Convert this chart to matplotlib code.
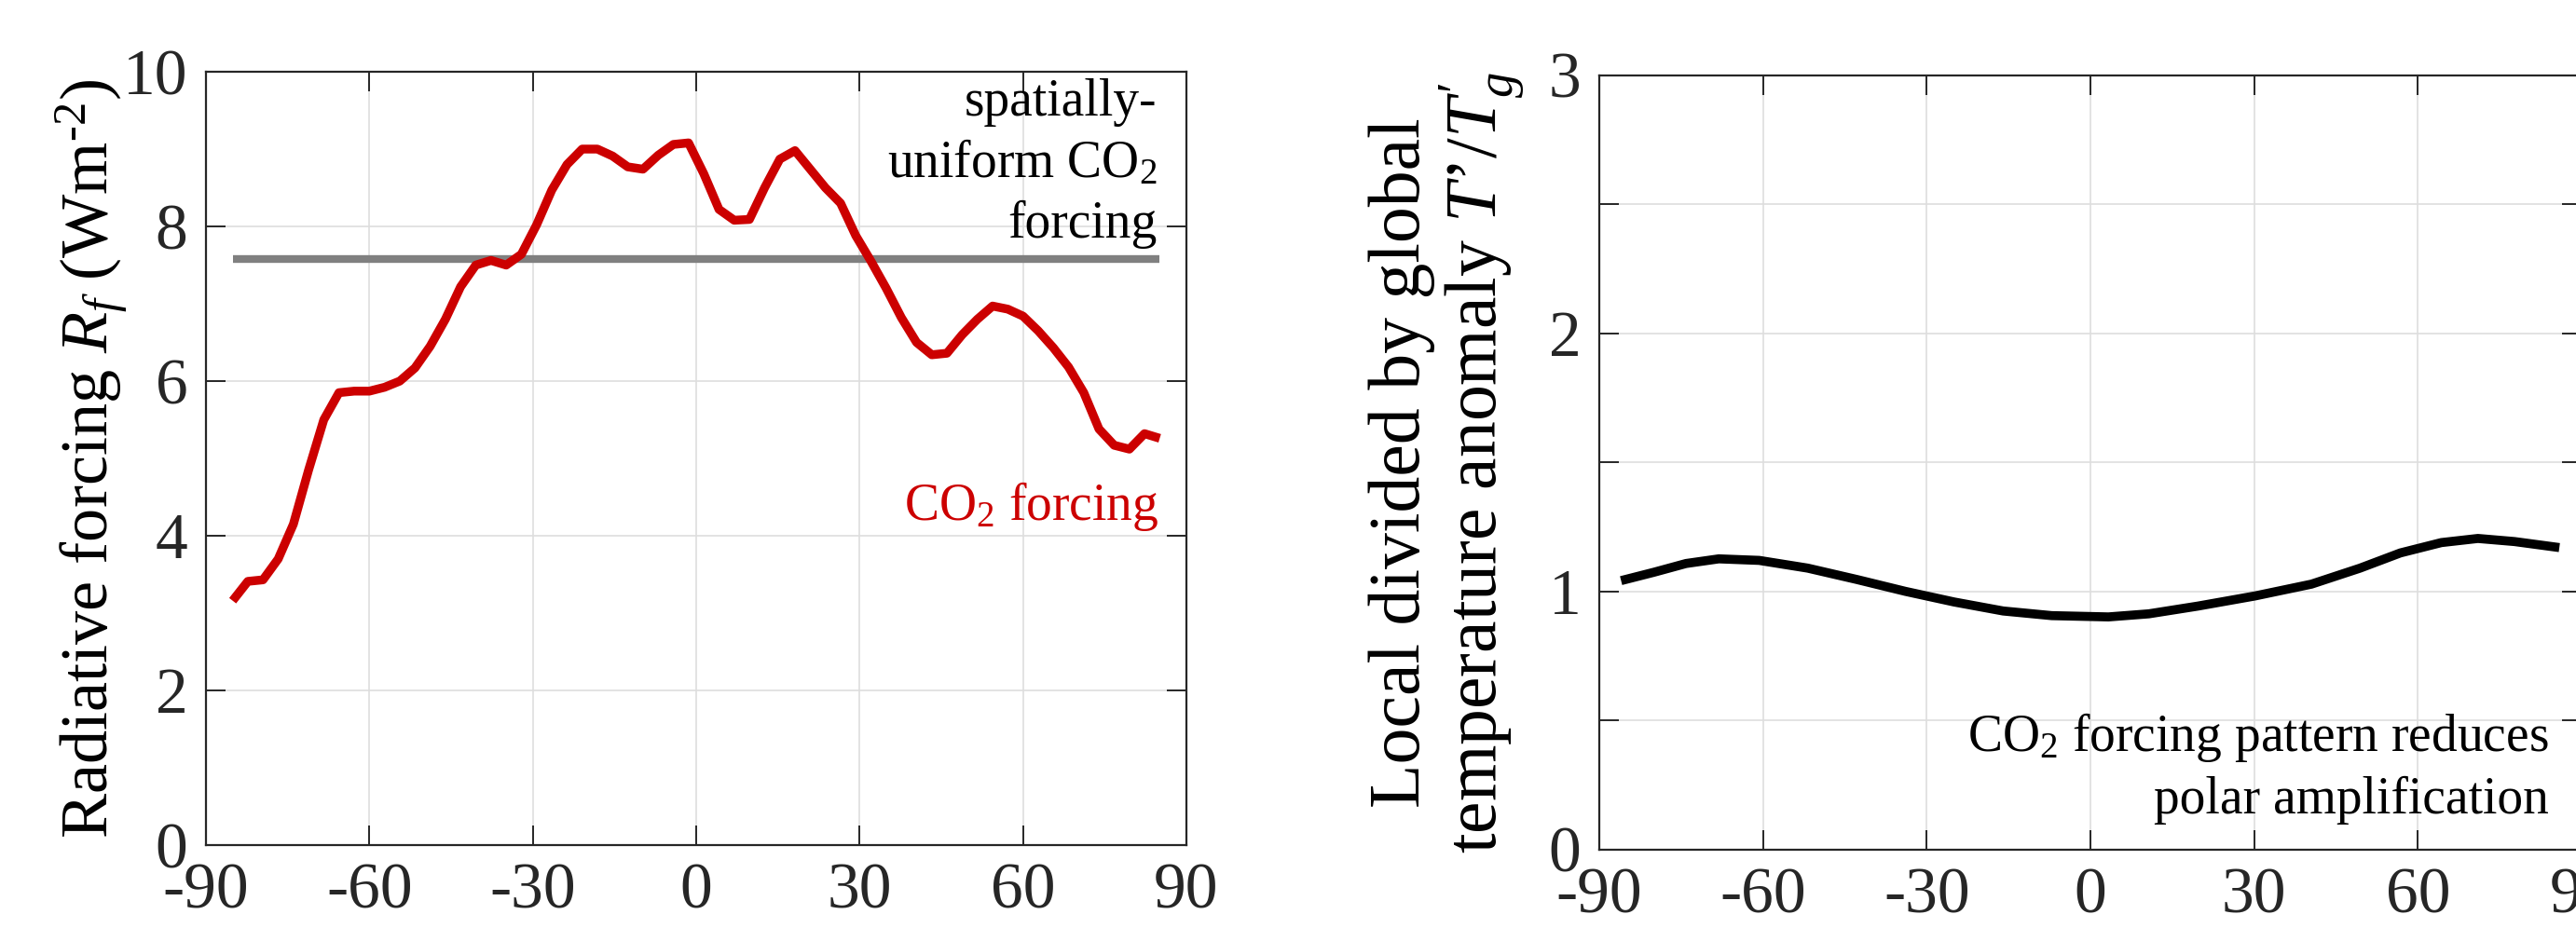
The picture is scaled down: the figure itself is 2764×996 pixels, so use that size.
import matplotlib
matplotlib.use("Agg")
import matplotlib.pyplot as plt

plt.rcParams['font.family'] = ['Liberation Serif', 'DejaVu Serif']
plt.rcParams['mathtext.fontset'] = 'custom'
plt.rcParams['mathtext.rm'] = 'Liberation Serif'
plt.rcParams['mathtext.it'] = 'Liberation Serif:italic'

# latitude grid of the forcing curve (kinks)
lat_f = [-85.10, -82.31, -79.53, -76.74, -73.95, -71.16, -68.37, -65.58, -62.79, -60.00,
         -57.21, -54.42, -51.63, -48.84, -46.04, -43.25, -40.46, -37.67, -34.88, -32.09,
         -29.30, -26.51, -23.72, -20.93, -18.14, -15.35, -12.56, -9.77, -6.98, -4.19,
         -1.40, 1.40, 4.19, 6.98, 9.77, 12.56, 15.35, 18.14, 20.93, 23.72,
         26.51, 29.30, 32.09, 34.88, 37.67, 40.46, 43.25, 46.04, 48.84, 51.63,
         54.42, 57.21, 60.00, 62.79, 65.58, 68.37, 71.16, 73.95, 76.74, 79.53,
         82.31, 85.10]
co2_forcing = [3.16, 3.41, 3.43, 3.70, 4.15, 4.85, 5.50, 5.85, 5.87, 5.87,
               5.92, 6.00, 6.17, 6.45, 6.80, 7.22, 7.50, 7.56, 7.50, 7.64,
               8.02, 8.47, 8.80, 9.00, 9.00, 8.91, 8.77, 8.74, 8.92, 9.06,
               9.08, 8.68, 8.22, 8.08, 8.09, 8.50, 8.87, 8.98, 8.74, 8.50,
               8.30, 7.88, 7.55, 7.20, 6.82, 6.50, 6.34, 6.36, 6.60, 6.80,
               6.97, 6.93, 6.84, 6.65, 6.43, 6.18, 5.85, 5.38, 5.17, 5.12,
               5.32, 5.26]
uniform_forcing = 7.58

# temperature pattern (right panel)
lat_t = [-85.2, -80.0, -74.1, -68.1, -60.7, -51.8, -42.8, -33.9, -25.0, -16.0, -7.1,
         3.3, 10.7, 19.7, 30.1, 40.5, 49.4, 56.8, 64.3, 71.0, 77.7, 85.1]
t_ratio = [1.046, 1.074, 1.108, 1.126, 1.120, 1.090, 1.046, 1.000, 0.959, 0.924, 0.906,
           0.901, 0.913, 0.943, 0.982, 1.028, 1.090, 1.149, 1.189, 1.205, 1.193, 1.172]

xticks = [-90, -60, -30, 0, 30, 60, 90]
yticks_left = [0, 2, 4, 6, 8, 10]
yticks_right = [0, 0.5, 1, 1.5, 2, 2.5, 3]
yticklabels_right = ['0', '', '1', '', '2', '', '3']

W, H = 2764, 996
fig = plt.figure(figsize=(W / 200, H / 200), dpi=200)
ax1 = fig.add_axes([221 / W, 1 - 907 / H, 1052 / W, 830 / H])
ax2 = fig.add_axes([1716 / W, 1 - 911.7 / H, 1054 / W, 831 / H])

dark = '#262626'
for ax in (ax1, ax2):
    ax.set_xlim(-90, 90)
    ax.set_xticks(xticks)
    ax.set_xticklabels([str(v) for v in xticks])
    ax.grid(True, color='#dedede', linewidth=0.6)
    ax.set_axisbelow(True)
    ax.tick_params(direction='in', length=7.5, width=0.7, colors=dark,
                   labelsize=25, top=True, right=True, pad=7)
    for s in ax.spines.values():
        s.set_color(dark)
        s.set_linewidth(0.8)

# left panel
ax1.plot([lat_f[0], lat_f[-1]], [uniform_forcing, uniform_forcing], color='#808080',
         linewidth=3.0, solid_capstyle='butt')
ax1.plot(lat_f, co2_forcing, color='#cc0000', linewidth=3.4, solid_capstyle='butt')
ax1.set_ylim(0, 10)
ax1.set_yticks(yticks_left)
ax1.set_yticklabels([str(v) for v in yticks_left])
ax1.set_ylabel(r'Radiative forcing $R_f$ (Wm$^{\text{-2}}$)', fontsize=26, va='baseline')
ax1.yaxis.set_label_coords(-0.0989, 0.5)
# multi-line text: 'baseline' aligns the last line
ax1.text(84.6, 7.855, 'spatially-\nuniform CO$_2$\nforcing', fontsize=20,
         ha='right', va='baseline', linespacing=1.32)
ax1.text(84.9, 4.2, 'CO$_2$ forcing', fontsize=20, color='#cc0000',
         ha='right', va='baseline')

# right panel
ax2.plot(lat_t, t_ratio, color='black', linewidth=3.5)
ax2.set_ylim(0, 3)
ax2.set_yticks(yticks_right)
ax2.set_yticklabels(yticklabels_right)
ax2.set_ylabel("Local divided by global\ntemperature anomaly $T$\u2019/$T_g'$",
               fontsize=28, va='baseline', linespacing=1.05)
ax2.yaxis.set_label_coords(-0.1072, 0.5)
ax2.text(84.0, 0.14, 'CO$_2$ forcing pattern reduces\npolar amplification', fontsize=20,
         ha='right', va='baseline', linespacing=1.32)

fig.savefig('out.png', dpi=200)
